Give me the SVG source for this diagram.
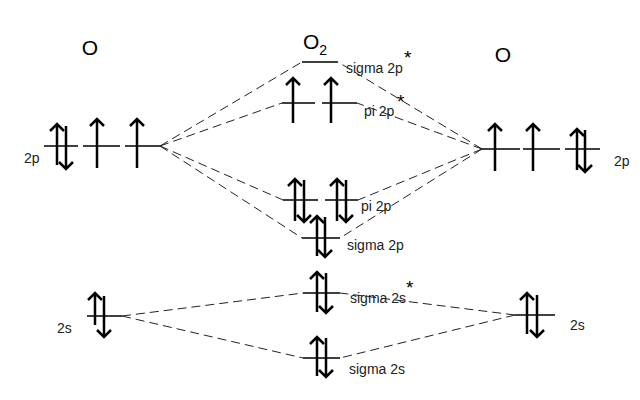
<svg xmlns="http://www.w3.org/2000/svg" width="640" height="400" viewBox="0 0 640 400">
<style>
.lvl{stroke:#000;stroke-width:1.5;fill:none}
.e{stroke:#000;stroke-width:2.5;fill:none}
.d{stroke:#222;stroke-width:1;stroke-dasharray:9,5;fill:none}
.t{font-family:"Liberation Sans",Arial,sans-serif;font-size:14px;fill:#222}
.s{font-family:"Liberation Sans",Arial,sans-serif;font-size:19px;fill:#000}
.h{font-family:"Liberation Sans",Arial,sans-serif;font-size:21px;fill:#000}
</style>
<rect width="640" height="400" fill="#fff"/>
<g id="connectors">
<path class="d" d="M160,146 L302,62 M160,146 L282,103 M160,146 L283,200 M160,146 L302,238"/>
<path class="d" d="M482,149 L338,62 M482,149 L357,103 M482,149 L358,200 M482,149 L340,238"/>
<path class="d" d="M122,316 L303,293 M122,316 L303,358"/>
<path class="d" d="M515,315 L340,293 M515,315 L340,358"/>
</g>
<g id="titles">
<text class="h" x="90" y="55" text-anchor="middle">O</text>
<text class="h" x="303" y="49">O<tspan font-size="14" dy="6">2</tspan></text>
<text class="h" x="503" y="62" text-anchor="middle">O</text>
</g>
<g id="left-2p">
<path class="lvl" d="M44,146 H78 M83,146 H120 M125,146 H160"/>
<path class="e" d="M57,165 V124 M50,131 L57,124 L64,131"/>
<path class="e" d="M66,126 V169 M59,162 L66,169 L73,162"/>
<path class="e" d="M97,168 V119 M90,126 L97,119 L104,126"/>
<path class="e" d="M137,168 V119 M130,126 L137,119 L144,126"/>
<text class="t" x="24" y="163">2p</text>
</g>
<g id="right-2p">
<path class="lvl" d="M482,149 H520 M523,149 H560 M565,149 H600"/>
<path class="e" d="M495,171 V124 M488,131 L495,124 L502,131"/>
<path class="e" d="M533,171 V124 M526,131 L533,124 L540,131"/>
<path class="e" d="M577,170 V129 M570,136 L577,129 L584,136"/>
<path class="e" d="M585,130 V172 M578,165 L585,172 L592,165"/>
<text class="t" x="614" y="166">2p</text>
</g>
<g id="sigma-2p-star">
<path class="lvl" d="M302,62 H338"/>
<text class="t" x="346" y="73">sigma 2p</text>
<text class="s" x="404" y="64">*</text>
</g>
<g id="pi-2p-star">
<path class="lvl" d="M282,103 H315 M322,103 H357"/>
<path class="e" d="M293,123 V78 M286,85 L293,78 L300,85"/>
<path class="e" d="M331,123 V78 M324,85 L331,78 L338,85"/>
<text class="t" x="364" y="116">pi 2p</text>
<text class="s" x="397" y="108">*</text>
</g>
<g id="pi-2p">
<path class="lvl" d="M283,200 H318 M325,200 H358"/>
<path class="e" d="M295,221 V179 M288,186 L295,179 L302,186"/>
<path class="e" d="M304,180 V222 M297,215 L304,222 L311,215"/>
<path class="e" d="M337,221 V179 M330,186 L337,179 L344,186"/>
<path class="e" d="M346,180 V222 M339,215 L346,222 L353,215"/>
<text class="t" x="361" y="211">pi 2p</text>
</g>
<g id="sigma-2p">
<path class="lvl" d="M302,238 H340"/>
<path class="e" d="M317,256 V216 M310,223 L317,216 L324,223"/>
<path class="e" d="M325,217 V257 M318,250 L325,257 L332,250"/>
<text class="t" x="347" y="250">sigma 2p</text>
</g>
<g id="sigma-2s-star">
<path class="lvl" d="M303,293 H340"/>
<path class="e" d="M317,312 V272 M310,279 L317,272 L324,279"/>
<path class="e" d="M326,273 V313 M319,306 L326,313 L333,306"/>
<text class="t" x="350" y="303">sigma 2s</text>
<text class="s" x="406" y="294">*</text>
</g>
<g id="sigma-2s">
<path class="lvl" d="M303,358 H340"/>
<path class="e" d="M317,376 V337 M310,344 L317,337 L324,344"/>
<path class="e" d="M326,338 V377 M319,370 L326,377 L333,370"/>
<text class="t" x="349" y="374">sigma 2s</text>
</g>
<g id="left-2s">
<path class="lvl" d="M87,316 H122"/>
<path class="e" d="M95,325 V293 M88,300 L95,293 L102,300"/>
<path class="e" d="M104,296 V337 M97,330 L104,337 L111,330"/>
<text class="t" x="57" y="333">2s</text>
</g>
<g id="right-2s">
<path class="lvl" d="M515,315 H555"/>
<path class="e" d="M527,334 V293 M520,300 L527,293 L534,300"/>
<path class="e" d="M537,295 V337 M530,330 L537,337 L544,330"/>
<text class="t" x="570" y="330">2s</text>
</g>
</svg>
